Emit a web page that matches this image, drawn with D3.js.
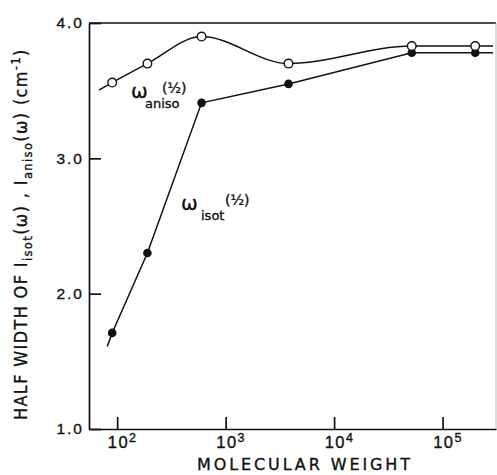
<!DOCTYPE html>
<html>
<head>
<meta charset="utf-8">
<script src="https://cdn.jsdelivr.net/npm/d3@7"></script>
<style>
  body { margin: 0; background: #fff; }
  svg { display: block; font-family: "DejaVu Sans", "Liberation Sans", sans-serif; }
  svg text { fill: #111; stroke: #111; stroke-width: 0.35px; }
  .axis path, .axis line { stroke: #111; stroke-width: 1.7; }
</style>
</head>
<body>
<svg id="chart" width="497" height="475"></svg>
<script>
// molecular weight of the samples (same for both series)
const molWeight = [90, 190, 600, 3800, 52000, 200000];
// half widths, cm^-1
const anisoWidth = [3.56, 3.70, 3.90, 3.70, 3.83, 3.83];
const isotWidth = [1.71, 2.30, 3.41, 3.55, 3.78, 3.78];
// the drawn lines run a little past the first and last points
const anisoLineEnds = [[68, 3.505], [292000, 3.83]];
const isotLineEnds = [[81, 1.61], [292000, 3.78]];
// axes
const xDomain = [55, 311000];
const xTicks = [1e2, 1e3, 1e4, 1e5];
const yDomain = [1, 4];
const yTicks = [1, 2, 3, 4];

/*------------Size---------------*/
const frame = { l: 89, r: 496, t: 23, b: 429 };
const ink = "#111";

const svg = d3.select("#chart");

const x = d3.scaleLog().domain(xDomain).range([frame.l, frame.r]);
const y = d3.scaleLinear().domain(yDomain).range([frame.b, frame.t]);

/*------------Frame & axes---------------*/
// top border dark, right border faint like the scan
svg.append("line")
  .attr("x1", frame.l).attr("x2", frame.r)
  .attr("y1", frame.t).attr("y2", frame.t)
  .attr("stroke", ink).attr("stroke-width", 1.7);
svg.append("line")
  .attr("x1", frame.r).attr("x2", frame.r)
  .attr("y1", frame.t).attr("y2", frame.b)
  .attr("stroke", "#bbb").attr("stroke-width", 1);

const xAxis = svg.append("g")
  .attr("class", "axis")
  .attr("transform", `translate(0,${frame.b})`)
  .call(d3.axisBottom(x).tickValues(xTicks).tickSizeInner(-12).tickSizeOuter(0)
    .tickPadding(7).tickFormat(() => ""));

xAxis.selectAll(".tick text")
  .attr("font-size", 16.5)
  .attr("letter-spacing", 1.5)
  .attr("dx", 5)
  .each(function(d) {
    const t = d3.select(this);
    t.append("tspan").text("10");
    t.append("tspan").attr("font-size", 12.5).attr("dy", -6).text(Math.round(Math.log10(d)));
  });

const yAxis = svg.append("g")
  .attr("class", "axis")
  .attr("transform", `translate(${frame.l},0)`)
  .call(d3.axisLeft(y).tickValues(yTicks).tickSizeInner(-12).tickSizeOuter(0)
    .tickPadding(5).tickFormat(d3.format(".1f")));

yAxis.selectAll(".tick text")
  .attr("font-size", 15.5)
  .attr("letter-spacing", 2);

// x title
svg.append("text")
  .attr("x", 197).attr("y", 470)
  .attr("font-size", 16)
  .attr("textLength", 213)
  .attr("lengthAdjust", "spacing")
  .text("MOLECULAR  WEIGHT");

// y title, squeezed to the length of the original lettering
const yTitle = svg.append("text")
  .attr("font-size", 17.5)
  .attr("letter-spacing", 1.5);
const yParts = [
  { t: "HALF  WIDTH  OF  I" },
  { t: "isot", sub: true },
  { t: "(ω) ,  I" },
  { t: "aniso", sub: true },
  { t: "(ω)    (cm" },
  { t: "-1", sup: true },
  { t: ")" }
];
let shift = 0;
yParts.forEach((p) => {
  const want = p.sub ? 5 : p.sup ? -7 : 0;
  yTitle.append("tspan")
    .attr("dy", want - shift)
    .attr("font-size", p.sub || p.sup ? 12.5 : null)
    .text(p.t);
  shift = want;
});
const yLen = yTitle.node().getComputedTextLength();
yTitle.attr("transform", `translate(27,420) rotate(-90) scale(${372 / yLen},1)`);

/*------------Lines---------------*/
const aniso = molWeight.map((m, i) => [m, anisoWidth[i]]);
const isot = molWeight.map((m, i) => [m, isotWidth[i]]);

const anisoLine = d3.line()
  .x((d) => x(d[0])).y((d) => y(d[1]))
  .curve(d3.curveMonotoneX);
const isotLine = d3.line()
  .x((d) => x(d[0])).y((d) => y(d[1]));

svg.append("path")
  .attr("d", anisoLine([anisoLineEnds[0], ...aniso, anisoLineEnds[1]]))
  .attr("fill", "none").attr("stroke", ink).attr("stroke-width", 1.5);
svg.append("path")
  .attr("d", isotLine([isotLineEnds[0], ...isot, isotLineEnds[1]]))
  .attr("fill", "none").attr("stroke", ink).attr("stroke-width", 1.5);

/*------------Points---------------*/
svg.append("g").selectAll("circle")
  .data(isot).enter().append("circle")
  .attr("cx", (d) => x(d[0])).attr("cy", (d) => y(d[1]))
  .attr("r", 4.3)
  .attr("fill", ink);

svg.append("g").selectAll("circle")
  .data(aniso).enter().append("circle")
  .attr("cx", (d) => x(d[0])).attr("cy", (d) => y(d[1]))
  .attr("r", 4.3)
  .attr("fill", "#fff").attr("stroke", ink).attr("stroke-width", 1.4);

/*------------Curve labels---------------*/
const omegaLabel = (lx, ly, sub, subDx, supDx) => {
  const g = svg.append("g");
  g.append("text").attr("x", lx).attr("y", ly).attr("font-size", 20).text("ω");
  g.append("text").attr("x", lx + subDx).attr("y", ly + 10).attr("font-size", 13)
    .text(sub);
  g.append("text").attr("x", lx + supDx).attr("y", ly - 5).attr("font-size", 14)
    .text("(½)");
};
omegaLabel(131, 98, "aniso", 14, 31);
omegaLabel(181, 210, "isot", 20, 44);
</script>
</body>
</html>
